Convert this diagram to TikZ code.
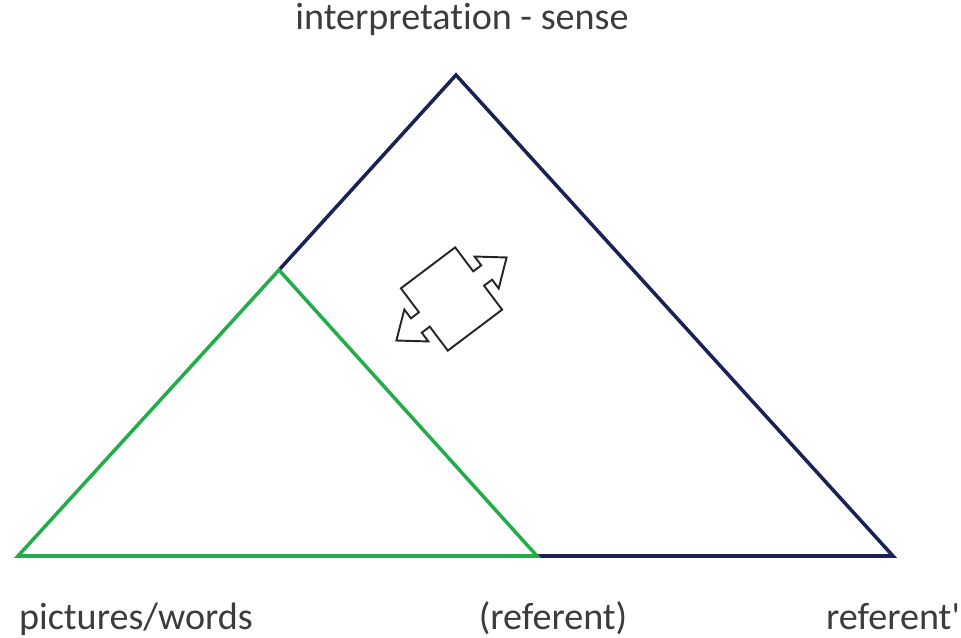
\documentclass[tikz,border=0pt]{standalone}
\usepackage{fontspec}
\setmainfont{Carlito}[Ligatures=NoCommon]
\usepackage{tikz}
\usetikzlibrary{positioning}
\usepackage{xcolor}
\definecolor{navyline}{HTML}{1B2155}
\definecolor{greenline}{HTML}{22AD4A}
\definecolor{labelgray}{HTML}{3C3C3C}

\begin{document}
\begin{tikzpicture}[x=0.02cm, y=-0.02cm,
    outerSide/.style={draw=navyline, line width=2pt, line join=miter},
    innerSide/.style={draw=greenline, line width=2pt, line join=miter},
    swapArrow/.style={draw=black!85, line width=1.1pt, fill=white, line join=miter},
    cornerLabel/.style={anchor=base, inner sep=0pt, text=labelgray, font=\fontsize{21.7}{26}\selectfont}
]
    \useasboundingbox (0,0) rectangle (961,638);

    % Corners of the two triangles
    \coordinate (top)    at (456,75);
    \coordinate (left)   at (18,556);
    \coordinate (right)  at (893,556);
    \coordinate (gtop)   at (279,270);
    \coordinate (gright) at (537,556);

    % Outer triangle (navy)
    \draw[outerSide] (gtop) -- (top) -- (right) -- (gright);

    % Inner triangle (green)
    \draw[innerSide] (left) -- (gtop) -- (gright) -- cycle;

    % Double arrow in the middle
    \begin{scope}[shift={(451.5,299)}, rotate=37]
        \draw[swapArrow] (-34,-39) -- (34,-39) -- (34,-9) -- (44,-9) -- (44,-20) -- (69,0)
            -- (44,20) -- (44,9) -- (34,9) -- (34,39) -- (-34,39) -- (-34,9) -- (-44,9)
            -- (-44,20) -- (-69,0) -- (-44,-20) -- (-44,-9) -- (-34,-9) -- cycle;
    \end{scope}

    % Labels
    \node[cornerLabel] (sense)    at (462,30)  {interpretation - sense};
    \node[cornerLabel] (pictures) at (136,630) {pictures/words};
    \node[cornerLabel] (referent) at (553,630) {(referent)};
    \node[cornerLabel] (refprime) at (893,630) {referent\textquotesingle};
\end{tikzpicture}
\end{document}
